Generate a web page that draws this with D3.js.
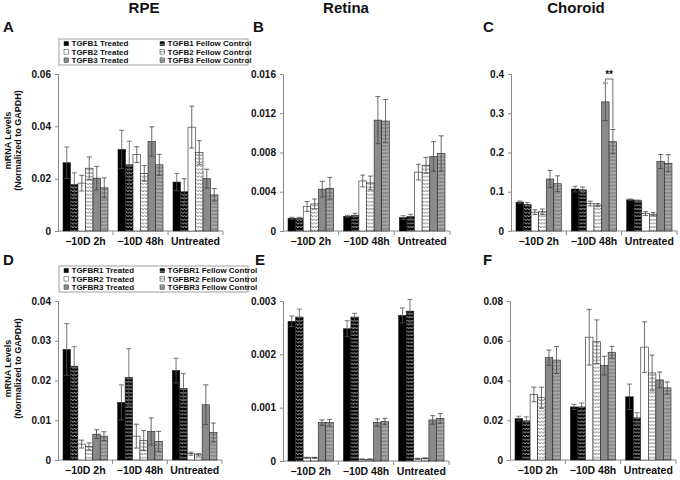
<!DOCTYPE html>
<html>
<head>
<meta charset="utf-8">
<script src="https://d3js.org/d3.v7.min.js"></script>
<style>
body { margin: 0; background: #fff; }
svg text { font-family: "Liberation Sans", Arial, sans-serif; font-weight: bold; fill: #111; }
</style>
</head>
<body>
<script>

var groups = ["\u221210D 2h", "\u221210D 48h", "Untreated"];
var ligandSeries = ["TGFB1 Treated", "TGFB1 Fellow Control", "TGFB2 Treated", "TGFB2 Fellow Control", "TGFB3 Treated", "TGFB3 Fellow Control"];
var receptorSeries = ["TGFBR1 Treated", "TGFBR1 Fellow Control", "TGFBR2 Treated", "TGFBR2 Fellow Control", "TGFBR3 Treated", "TGFBR3 Fellow Control"];

// one row per group, values in series order
var rpeLigand    = [[0.0261, 0.0178, 0.0183, 0.0240, 0.0202, 0.0165], [0.0312, 0.0253, 0.0292, 0.0220, 0.0342, 0.0253], [0.0187, 0.0150, 0.0397, 0.0300, 0.0200, 0.0138]];
var rpeLigandErr = [[0.0060, 0.0044, 0.0030, 0.0043, 0.0045, 0.0038], [0.0073, 0.0090, 0.0030, 0.0030, 0.0056, 0.0040], [0.0033, 0.0050, 0.0080, 0.0045, 0.0036, 0.0024]];
var retLigand    = [[0.0013, 0.0013, 0.0025, 0.00276, 0.00426, 0.00436], [0.0015, 0.0016, 0.0051, 0.0049, 0.0113, 0.0112], [0.00136, 0.0015, 0.0060, 0.0067, 0.0076, 0.0079]];
var retLigandErr = [[0.0001, 0.0001, 0.0005, 0.0005, 0.0008, 0.0011], [0.0001, 0.0002, 0.0006, 0.0007, 0.0024, 0.0022], [0.0002, 0.0002, 0.0008, 0.0008, 0.0015, 0.0018]];
var chrLigand    = [[0.0735, 0.0675, 0.048, 0.049, 0.1325, 0.1205], [0.107, 0.105, 0.070, 0.066, 0.329, 0.2275], [0.0795, 0.077, 0.0444, 0.0427, 0.177, 0.1726]];
var chrLigandErr = [[0.003, 0.005, 0.006, 0.007, 0.022, 0.020], [0.007, 0.007, 0.006, 0.004, 0.048, 0.031], [0.002, 0.002, 0.005, 0.004, 0.018, 0.022]];

var rpeReceptor    = [[0.0278, 0.0236, 0.0040, 0.0034, 0.0065, 0.0060], [0.0145, 0.0208, 0.0060, 0.0049, 0.0072, 0.0047], [0.0225, 0.0180, 0.0016, 0.0013, 0.0139, 0.0069]];
var rpeReceptorErr = [[0.0065, 0.0049, 0.0010, 0.0009, 0.0011, 0.0011], [0.0044, 0.0072, 0.0030, 0.0025, 0.0034, 0.0025], [0.0031, 0.0037, 0.0004, 0.0003, 0.0050, 0.0024]];
var retReceptor    = [[0.00262, 0.00270, 0.00006, 0.00006, 0.00072, 0.00072], [0.00248, 0.00270, 0.00003, 0.00003, 0.00072, 0.00074], [0.00273, 0.00281, 0.00004, 0.00005, 0.00077, 0.00080]];
var retReceptorErr = [[0.00010, 0.00015, 0.00001, 0.00001, 0.00005, 0.00006], [0.00015, 0.00007, 0.00001, 0.00001, 0.00007, 0.00006], [0.00014, 0.00022, 0.00001, 0.00001, 0.00008, 0.00009]];
var chrReceptor    = [[0.0208, 0.0197, 0.0330, 0.0313, 0.0515, 0.0503], [0.0267, 0.0267, 0.0618, 0.0595, 0.0475, 0.0542], [0.0318, 0.0212, 0.0568, 0.0438, 0.0403, 0.0363]];
var chrReceptorErr = [[0.0012, 0.0020, 0.0037, 0.0053, 0.0038, 0.0068], [0.0013, 0.0020, 0.0140, 0.0110, 0.0047, 0.0030], [0.0064, 0.0026, 0.0127, 0.0090, 0.0040, 0.0030]];

var ticksA = [0, 0.02, 0.04, 0.06];
var ticksB = [0, 0.004, 0.008, 0.012, 0.016];
var ticksC = [0, 0.1, 0.2, 0.3, 0.4];
var ticksD = [0, 0.01, 0.02, 0.03, 0.04];
var ticksE = [0, 0.001, 0.002, 0.003];
var ticksF = [0, 0.02, 0.04, 0.06, 0.08];

var columnTitles = ["RPE", "Retina", "Choroid"];
var yLabel = ["mRNA Levels", "(Normalized to GAPDH)"];

var svg = d3.select("body").append("svg")
    .attr("width", 680)
    .attr("height", 480);

// zigzag fills for the fellow control bars
var defs = svg.append("defs");
function zigzag(id, bg, fg) {
  var p = defs.append("pattern")
      .attr("id", id)
      .attr("patternUnits", "userSpaceOnUse")
      .attr("width", 3).attr("height", 3.6);
  p.append("rect").attr("width", 3).attr("height", 3.6).attr("fill", bg);
  p.append("path")
      .attr("d", "M0,2.7 L1.5,0.9 L3,2.7")
      .attr("fill", "none")
      .attr("stroke", fg)
      .attr("stroke-width", 0.75);
}
zigzag("zz1", "#000", "#cfcfcf");
zigzag("zz2", "#fff", "#6a6a6a");
zigzag("zz3", "#8a8a8a", "#cacaca");

var fills = ["#000", "url(#zz1)", "#fff", "url(#zz2)", "#8a8a8a", "url(#zz3)"];

var panels = [
  {letter: "A", title: 0, values: rpeLigand, errs: rpeLigandErr, ticks: ticksA, x: 58, y: 74, w: 165, h: 157, legend: ligandSeries, ylab: true},
  {letter: "B", title: 1, values: retLigand, errs: retLigandErr, ticks: ticksB, x: 283, y: 74, w: 167, h: 157},
  {letter: "C", title: 2, values: chrLigand, errs: chrLigandErr, ticks: ticksC, x: 511, y: 74, w: 166, h: 157, stars: true},
  {letter: "D", values: rpeReceptor, errs: rpeReceptorErr, ticks: ticksD, x: 58, y: 301, w: 164, h: 159, legend: receptorSeries, ylab: true},
  {letter: "E", values: retReceptor, errs: retReceptorErr, ticks: ticksE, x: 283, y: 301, w: 166, h: 160},
  {letter: "F", values: chrReceptor, errs: chrReceptorErr, ticks: ticksF, x: 510, y: 301, w: 166, h: 159}
];

var letterX = {A: 3, B: 253, C: 483, D: 3, E: 255, F: 483};
var titleX = [144, 346, 576];

panels.forEach(function(p) {
  var g = svg.append("g").attr("transform", "translate(" + p.x + "," + p.y + ")");

  var yScale = d3.scaleLinear()
      .domain([0, p.ticks[p.ticks.length - 1]])
      .range([p.h, 0]);
  var x0 = d3.scaleBand().domain(groups).range([0, p.w]);
  var x1 = d3.scaleBand().domain(d3.range(6)).range([5, x0.bandwidth() - 5]);

  // y axis
  var yAxis = d3.axisLeft(yScale)
      .tickValues(p.ticks)
      .tickSize(3)
      .tickPadding(4)
      .tickFormat(function(d) { return d === 0 ? "0" : String(+d.toFixed(4)); });
  var ya = g.append("g").call(yAxis);
  ya.select(".domain").attr("stroke", "#888");
  ya.selectAll(".tick line").attr("stroke", "#888");
  ya.selectAll(".tick text")
      .style("font-size", "10px")
      .style("font-family", "'Liberation Sans', Arial, sans-serif")
      .style("font-weight", "bold")
      .attr("fill", "#111");

  // x axis with ticks between groups
  g.append("line")
      .attr("x1", 0).attr("x2", p.w)
      .attr("y1", p.h).attr("y2", p.h)
      .attr("stroke", "#888");
  g.selectAll(".sep")
      .data(groups)
    .enter().append("line")
      .attr("x1", function(d) { return x0(d) + x0.bandwidth(); })
      .attr("x2", function(d) { return x0(d) + x0.bandwidth(); })
      .attr("y1", p.h).attr("y2", p.h + 4)
      .attr("stroke", "#888");
  g.selectAll(".cat")
      .data(groups)
    .enter().append("text")
      .attr("x", function(d) { return x0(d) + x0.bandwidth() / 2; })
      .attr("y", p.h + 14)
      .attr("text-anchor", "middle")
      .style("font-size", "10.5px")
      .text(function(d) { return d; });

  // bars
  groups.forEach(function(grp, gi) {
    var gg = g.append("g").attr("transform", "translate(" + x0(grp) + ",0)");
    gg.selectAll("rect")
        .data(p.values[gi])
      .enter().append("rect")
        .attr("x", function(d, i) { return x1(i); })
        .attr("y", function(d) { return yScale(d); })
        .attr("width", x1.bandwidth())
        .attr("height", function(d) { return p.h - yScale(d); })
        .attr("fill", function(d, i) { return fills[i]; })
        .attr("stroke", "#222")
        .attr("stroke-width", 0.6);

    p.values[gi].forEach(function(v, i) {
      var e = p.errs[gi][i];
      var cx = x1(i) + x1.bandwidth() / 2;
      var col = i < 2 ? "#555" : "#444";
      gg.append("line")
          .attr("x1", cx).attr("x2", cx)
          .attr("y1", yScale(Math.max(0, v - e))).attr("y2", yScale(v + e))
          .attr("stroke", col).attr("stroke-width", 0.8);
      [v + e, Math.max(0, v - e)].forEach(function(c) {
        gg.append("line")
            .attr("x1", cx - 2.5).attr("x2", cx + 2.5)
            .attr("y1", yScale(c)).attr("y2", yScale(c))
            .attr("stroke", col).attr("stroke-width", 0.8);
      });
    });

    if (p.stars && gi === 1) {
      var xa = x1(4) + x1.bandwidth() / 2, xb = x1(5) + x1.bandwidth() / 2;
      var top = yScale(p.values[1][4] + p.errs[1][4]) - 4;
      gg.append("path")
          .attr("d", "M" + xa + "," + (yScale(p.values[1][4] + p.errs[1][4]) - 1) + " V" + top +
                " H" + xb + " V" + (yScale(p.values[1][5] + p.errs[1][5]) - 1))
          .attr("fill", "none")
          .attr("stroke", "#333")
          .attr("stroke-width", 0.7);
      gg.append("text")
          .attr("x", (xa + xb) / 2)
          .attr("y", top - 1)
          .attr("text-anchor", "middle")
          .style("font-size", "10px")
          .text("**");
    }
  });

  // panel letter and column title
  svg.append("text")
      .attr("x", letterX[p.letter])
      .attr("y", p.y < 200 ? 32 : 265)
      .style("font-size", "15px")
      .text(p.letter);
  if (p.title !== undefined) {
    svg.append("text")
        .attr("x", titleX[p.title])
        .attr("y", 13)
        .attr("text-anchor", "middle")
        .style("font-size", "15px")
        .text(columnTitles[p.title]);
  }

  // y label
  if (p.ylab) {
    var cy = p.y + p.h / 2 - 12;
    yLabel.forEach(function(t, i) {
      svg.append("text")
          .attr("transform", "translate(" + (11 + i * 10) + "," + cy + ") rotate(-90)")
          .attr("text-anchor", "middle")
          .style("font-size", "9px")
          .text(t);
    });
  }

  // legend
  if (p.legend) {
    var lg = svg.append("g").attr("transform", "translate(59," + (p.y - 35) + ")");
    lg.append("rect")
        .attr("width", 189).attr("height", 26)
        .attr("fill", "#fff")
        .attr("stroke", "#888")
        .attr("stroke-width", 0.8);
    p.legend.forEach(function(name, i) {
      var col = i % 2, row = Math.floor(i / 2);
      var lx = col === 0 ? 5 : 101, ly = 5.5 + row * 8.3;
      lg.append("rect")
          .attr("x", lx).attr("y", ly - 3.2)
          .attr("width", 4.5).attr("height", 4.5)
          .attr("fill", fills[i])
          .attr("stroke", "#333")
          .attr("stroke-width", 0.5);
      lg.append("text")
          .attr("x", lx + 7.5)
          .attr("y", ly + 1.8)
          .style("font-size", "8px")
          .text(name);
    });
  }
});

</script>
</body>
</html>
